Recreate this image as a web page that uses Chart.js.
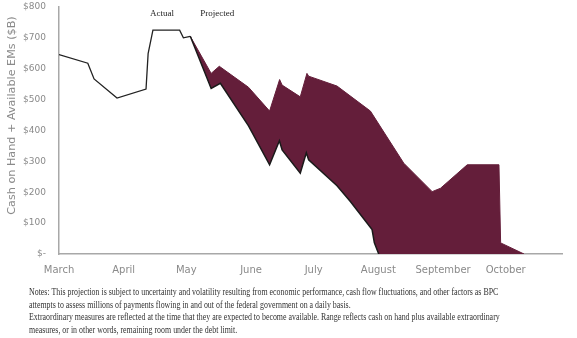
<!DOCTYPE html>
<html lang="en">
<head>
<meta charset="UTF-8">
<title>Cash on Hand + Available EMs</title>
<script src="https://cdn.jsdelivr.net/npm/chart.js@4.4.0/dist/chart.umd.min.js"></script>
<style>
    body { margin: 0; background: #fff; }
    .grafico { position: relative; width: 577px; height: 282px; }
    .notas {
        position: absolute; left: 29px; top: 286px;
        font-family: "Liberation Serif", serif; font-size: 10px; line-height: 12.6px;
        color: #333; white-space: nowrap;
        transform: scaleX(0.79) translateZ(0); transform-origin: left top;
    }
</style>
</head>
<body>
<div class="grafico">
    <canvas id="chartCaixa"></canvas>
</div>
<div class="notas">
    Notes: This projection is subject to uncertainty and volatility resulting from economic performance, cash flow fluctuations, and other factors as BPC<br>
    attempts to assess millions of payments flowing in and out of the federal government on a daily basis.<br>
    Extraordinary measures are reflected at the time that they are expected to become available. Range reflects cash on hand plus available extraordinary<br>
    measures, or in other words, remaining room under the debt limit.
</div>

<script>
    // dias contados a partir de 1 de marco
    var monthStarts = [0, 31, 61, 92, 122, 153, 184, 214];
    var monthNames = ['March', 'April', 'May', 'June', 'July', 'August', 'September', 'October'];
    var yTicks = [0, 100, 200, 300, 400, 500, 600, 700, 800];

    // real (linha preta)
    var actualDays = [0, 13.8, 16.8, 27.8, 41.7, 42.7, 45, 57.8, 59.6, 62.9];
    var actualCash = [646, 618, 567, 505, 534, 649, 725, 725, 700, 705];

    // projecao: limite superior (caixa + EMs)
    var upperDays = [62.9, 72.9, 76.8, 90.8, 100.9, 105.7, 106.9, 115.6, 118.8, 119.6, 133.2, 149.2, 165.2, 178.8, 182.8, 195.6, 210.8, 211.6, 222.8];
    var upperCash = [705, 585, 608, 540, 463, 565, 547, 509, 585, 576, 544, 463, 294, 202, 213, 289, 289, 36, 0];

    // projecao: limite inferior
    var lowerDays = [62.9, 72.9, 77.3, 90.8, 100.9, 105.6, 106.9, 115.6, 118.5, 119.6, 133.2, 139.6, 150, 151.1, 153.2];
    var lowerCash = [705, 536, 553, 415, 289, 367, 337, 262, 328, 305, 221, 170, 79, 36, 0];

    function pares(xs, ys) {
        return xs.map(function (x, i) { return { x: x, y: ys[i] }; });
    }

    // limite de preenchimento: o inferior seguindo em zero ate o fim do superior
    var fillDays = lowerDays.concat([upperDays[upperDays.length - 1]]);
    var fillCash = lowerCash.concat([0]);

    var cinza = '#8a8a8a';

    var labelPlugin = {
        id: 'rotulos',
        afterDraw: function (chart) {
            var ctx = chart.ctx;
            var sx = chart.scales.x, sy = chart.scales.y;
            ctx.save();
            ctx.fillStyle = '#222';
            ctx.font = '9px "Liberation Serif", serif';
            ctx.textAlign = 'center';
            ctx.textBaseline = 'middle';
            ctx.fillText('Actual', sx.getPixelForValue(49.4), sy.getPixelForValue(780));
            ctx.fillText('Projected', sx.getPixelForValue(75.8), sy.getPixelForValue(780));

            // titulo do eixo y
            ctx.translate(12, 115.5);
            ctx.rotate(-Math.PI / 2);
            ctx.fillStyle = cinza;
            ctx.font = '11.2px "DejaVu Sans", sans-serif';
            ctx.fillText('Cash on Hand + Available EMs ($B)', 0, 0);
            ctx.restore();
        }
    };

    new Chart(document.getElementById('chartCaixa'), {
        type: 'line',
        data: {
            datasets: [{
                label: 'Actual',
                data: pares(actualDays, actualCash),
                borderColor: '#222',
                borderWidth: 1.3,
                pointRadius: 0,
                tension: 0,
                fill: false
            }, {
                label: 'Low',
                data: pares(lowerDays, lowerCash),
                borderColor: '#1a1a1a',
                borderWidth: 1.5,
                pointRadius: 0,
                tension: 0,
                fill: false
            }, {
                label: 'High',
                data: pares(upperDays, upperCash),
                borderColor: '#641e3a',
                backgroundColor: '#641e3a',
                borderWidth: 1,
                pointRadius: 0,
                tension: 0,
                fill: 3
            }, {
                label: 'Fill boundary',
                data: pares(fillDays, fillCash),
                borderWidth: 0,
                borderColor: 'rgba(0,0,0,0)',
                pointRadius: 0,
                tension: 0,
                fill: false
            }]
        },
        options: {
            responsive: true,
            maintainAspectRatio: false,
            animation: false,
            layout: { padding: { left: 0, right: 15, top: 7, bottom: 0 } },
            plugins: {
                legend: { display: false },
                tooltip: { enabled: false }
            },
            scales: {
                x: {
                    type: 'linear',
                    min: 0,
                    max: 241,
                    grid: { display: false, drawTicks: false },
                    border: { display: true, color: '#a8a8a8', width: 1.5 },
                    afterBuildTicks: function (axis) {
                        axis.ticks = monthStarts.map(function (v) { return { value: v }; });
                    },
                    afterFit: function (axis) {
                        axis.height = 28;
                        axis.paddingLeft = 0;
                        axis.paddingRight = 0;
                    },
                    ticks: {
                        padding: 10,
                        maxRotation: 0,
                        autoSkip: false,
                        color: cinza,
                        font: { family: 'DejaVu Sans', size: 10 },
                        callback: function (v) {
                            var i = monthStarts.indexOf(v);
                            return i >= 0 ? monthNames[i] : '';
                        }
                    }
                },
                y: {
                    min: 0,
                    max: 800,
                    grid: { display: false, drawTicks: false },
                    border: { display: true, color: '#a8a8a8', width: 1.5 },
                    afterBuildTicks: function (axis) {
                        axis.ticks = yTicks.map(function (v) { return { value: v }; });
                    },
                    afterFit: function (axis) {
                        axis.width = 59;
                        axis.paddingTop = 0;
                        axis.paddingBottom = 0;
                    },
                    ticks: {
                        padding: 13,
                        color: cinza,
                        font: { family: 'DejaVu Sans', size: 9 },
                        callback: function (v) { return v === 0 ? '$-' : '$' + v; }
                    }
                }
            }
        },
        plugins: [labelPlugin]
    });
</script>
</body>
</html>
